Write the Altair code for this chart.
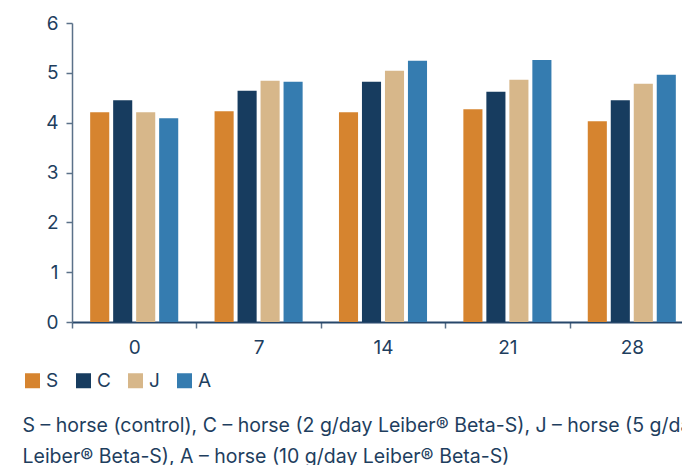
import altair as alt
import pandas as pd

days = ["0", "7", "14", "21", "28"]
groups = ["S", "C", "J", "A"]
S_vals = [4.21, 4.23, 4.21, 4.27, 4.03]
C_vals = [4.45, 4.64, 4.82, 4.62, 4.45]
J_vals = [4.21, 4.84, 5.04, 4.86, 4.78]
A_vals = [4.09, 4.82, 5.24, 5.26, 4.96]
colors = ["#d6842f", "#173c5f", "#d7b78a", "#357cb0"]
footnote = [
    "S \u2013 horse (control), C \u2013 horse (2 g/day Leiber\u00ae Beta-S), J \u2013 horse (5 g/day",
    "Leiber\u00ae Beta-S), A \u2013 horse (10 g/day Leiber\u00ae Beta-S)",
]

rows = []
for g, vals in zip(groups, [S_vals, C_vals, J_vals, A_vals]):
    for d, v in zip(days, vals):
        rows.append({"day": d, "group": g, "value": v})
df = pd.DataFrame(rows)

TXT = "#1e3e5e"
FONT = "Inter"

chart = alt.Chart(df).mark_bar().encode(
    x=alt.X(
        "day:N",
        sort=days,
        scale=alt.Scale(paddingInner=0, paddingOuter=0),
        axis=alt.Axis(
            title=footnote,
            titleX=-50,
            titleY=109,
            titleAlign="left",
            titleAnchor="start",
            titleBaseline="alphabetic",
            titleFont=FONT,
            titleFontSize=19.5,
            titleFontWeight="normal",
            titleColor=TXT,
            titleLineHeight=31.5,
            labelAngle=0,
            labelFont=FONT,
            labelFontSize=19,
            labelColor=TXT,
            labelPadding=10,
            tickBand="extent",
            tickSize=6,
            tickColor="#5b7189",
            tickWidth=1.5,
            domainColor="#27476a",
            domainWidth=2,
        ),
    ),
    xOffset=alt.XOffset(
        "group:N", sort=groups, scale=alt.Scale(paddingInner=0.17, paddingOuter=0.79)
    ),
    y=alt.Y(
        "value:Q",
        scale=alt.Scale(domain=[0, 6], nice=False),
        axis=alt.Axis(
            title=None,
            values=[0, 1, 2, 3, 4, 5, 6],
            grid=False,
            labelFont=FONT,
            labelFontSize=19,
            labelColor=TXT,
            labelPadding=8,
            tickSize=6,
            tickColor="#5b7189",
            tickWidth=1.5,
            domainColor="#5b7189",
            domainWidth=1.5,
        ),
    ),
    color=alt.Color(
        "group:N",
        sort=groups,
        scale=alt.Scale(domain=groups, range=colors),
        legend=alt.Legend(
            title=None,
            orient="none",
            direction="horizontal",
            legendX=-49,
            legendY=348,
            symbolType="square",
            symbolSize=225,
            symbolStrokeWidth=0,
            symbolOpacity=1,
            labelFont=FONT,
            labelFontSize=19,
            labelColor=TXT,
            labelOffset=4,
            columnPadding=15,
            padding=0,
        ),
    ),
).properties(
    width=622,
    height=299,
    autosize=alt.AutoSizeParams(type="none"),
    padding={"left": 64, "top": 15, "right": -12, "bottom": 143},
).configure_view(stroke=None)

chart.save("out.html", embed_options={"renderer": "svg", "actions": False})
